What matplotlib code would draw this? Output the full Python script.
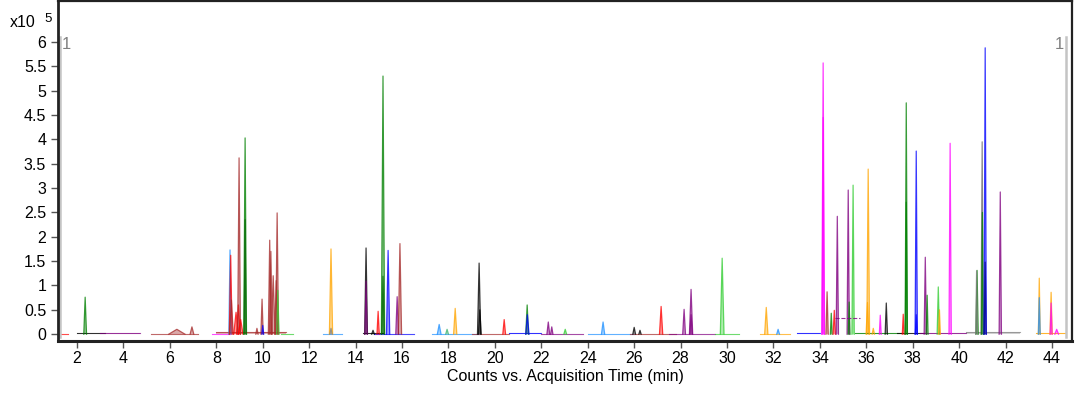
import matplotlib
matplotlib.use("Agg")
from matplotlib import pyplot as plt

plt.rcParams['font.family'] = ['Liberation Sans', 'DejaVu Sans']

# peak table: retention time (min), height (x10^5 counts), colour, half width (min)
peak_rt = [2.35, 6.3, 6.95, 8.59, 8.62, 8.65, 8.85, 8.95, 8.98, 9.05, 9.24, 9.24,
           9.75, 9.97, 10.0, 10.3, 10.35, 10.45, 10.62, 10.58, 10.65,
           12.94, 12.94, 14.45, 14.45, 14.75, 14.97, 15.18, 15.18, 15.4, 15.79, 15.91,
           17.6, 17.94, 18.29, 19.32, 19.35, 20.4, 21.39, 21.4, 22.3, 22.45, 23.03,
           24.66, 26.0, 26.25, 27.16, 28.15, 28.45, 28.45, 29.79,
           31.69, 32.2, 34.14, 34.14, 34.31, 34.49, 34.62, 34.75, 35.22, 35.26, 35.43,
           36.08, 36.05, 36.3, 36.6, 36.86, 37.59, 37.72, 37.72, 38.15, 38.15, 38.54,
           38.62, 39.1, 39.15, 39.61, 40.77, 40.75, 40.99, 41.0, 41.12, 41.12, 41.77,
           43.45, 43.45, 43.96, 43.96, 44.2]
peak_h = [0.76, 0.10, 0.15, 1.73, 1.62, 0.70, 0.45, 0.60, 3.62, 0.30, 4.03, 2.35,
          0.12, 0.72, 0.18, 1.93, 1.70, 1.20, 2.49, 1.10, 0.90,
          1.75, 0.12, 1.77, 1.09, 0.08, 0.47, 5.30, 1.19, 1.72, 0.77, 1.86,
          0.20, 0.10, 0.53, 1.46, 0.50, 0.30, 0.60, 0.40, 0.25, 0.15, 0.10,
          0.25, 0.14, 0.08, 0.57, 0.51, 0.92, 0.40, 1.56,
          0.55, 0.10, 5.57, 4.45, 0.87, 0.43, 0.49, 2.42, 2.96, 0.66, 3.06,
          3.39, 0.65, 0.12, 0.39, 0.64, 0.41, 4.75, 2.71, 3.76, 0.40, 1.58,
          0.80, 0.97, 0.50, 3.92, 1.31, 1.30, 3.95, 2.50, 5.88, 1.48, 2.92,
          1.15, 0.75, 0.86, 0.64, 0.10]
peak_c = ['green', 'brown', 'brown', 'dodgerblue', 'red', 'brown', 'red', 'red', 'brown', 'red', 'green', 'darkgreen',
          'brown', 'brown', 'blue', 'brown', 'brown', 'brown', 'brown', 'brown', 'limegreen',
          'orange', 'gray', 'black', 'purple', 'black', 'red', 'green', 'darkgreen', 'blue', 'purple', 'brown',
          'dodgerblue', 'mediumseagreen', 'orange', 'black', 'black', 'red', 'green', 'blue', 'purple', 'purple', 'limegreen',
          'dodgerblue', 'black', 'black', 'red', 'purple', 'purple', 'purple', 'limegreen',
          'orange', 'dodgerblue', 'magenta', 'magenta', 'brown', 'green', 'red', 'purple', 'purple', 'green', 'limegreen',
          'orange', 'orange', 'orange', 'magenta', 'black', 'red', 'green', 'green', 'blue', 'blue', 'purple',
          'green', 'limegreen', 'orange', 'magenta', 'green', 'gray', 'dimgray', 'green', 'blue', 'darkblue', 'purple',
          'orange', 'dodgerblue', 'orange', 'magenta', 'magenta']
peak_w = [0.06, 0.35, 0.08, 0.05, 0.06, 0.08, 0.10, 0.08, 0.06, 0.10, 0.06, 0.04,
          0.05, 0.05, 0.04, 0.06, 0.06, 0.08, 0.06, 0.06, 0.05,
          0.07, 0.05, 0.06, 0.05, 0.06, 0.05, 0.07, 0.05, 0.07, 0.06, 0.07,
          0.08, 0.06, 0.07, 0.07, 0.06, 0.06, 0.06, 0.07, 0.06, 0.05, 0.06,
          0.07, 0.06, 0.05, 0.07, 0.06, 0.07, 0.05, 0.08,
          0.07, 0.06, 0.06, 0.04, 0.05, 0.04, 0.05, 0.05, 0.05, 0.04, 0.05,
          0.06, 0.06, 0.05, 0.04, 0.05, 0.04, 0.05, 0.04, 0.05, 0.04, 0.05,
          0.04, 0.05, 0.04, 0.05, 0.05, 0.04, 0.05, 0.04, 0.05, 0.04, 0.05,
          0.04, 0.04, 0.05, 0.04, 0.08]

# low baseline traces: start, end, level, colour
base_start = [1.2, 2.0, 3.0, 5.2, 7.8, 8.0, 10.8, 12.6, 14.3, 14.8, 17.3, 19.0, 20.6, 22.0,
              24.0, 25.8, 27.5, 29.5, 31.4, 33.0, 35.5, 37.3, 38.3, 40.3, 43.3]
base_end = [1.6, 3.2, 4.7, 7.2, 8.6, 11.0, 11.3, 13.4, 15.2, 16.5, 19.3, 20.6, 22.0, 23.8,
            26.0, 27.8, 29.5, 30.5, 32.7, 34.0, 37.5, 38.5, 40.3, 42.6, 44.6]
base_lvl = [0.01, 0.03, 0.02, 0.01, 0.01, 0.04, 0.01, 0.01, 0.02, 0.01, 0.01, 0.01, 0.02, 0.01,
            0.01, 0.01, 0.01, 0.01, 0.01, 0.02, 0.02, 0.02, 0.02, 0.05, 0.03]
base_c = ['red', 'black', 'purple', 'brown', 'magenta', 'brown', 'limegreen', 'dodgerblue', 'black',
          'blue', 'dodgerblue', 'brown', 'blue', 'purple', 'dodgerblue', 'brown', 'purple',
          'limegreen', 'orange', 'blue', 'green', 'black', 'purple', 'gray', 'orange']

# purple plateau trace near 35 min
plateau_start, plateau_end, plateau_lvl = 34.66, 35.73, 0.33

fig = plt.figure(figsize=(10.8, 3.93), dpi=100)
ax = fig.add_axes([0.0537, 0.1323, 0.9389, 0.865])

for s, e, lv, c in zip(base_start, base_end, base_lvl, base_c):
    ax.fill_between([s, e], [0, 0], [lv, lv], color=c, alpha=0.35, lw=0)
    ax.plot([s, e], [lv, lv], color=c, lw=0.8, alpha=0.7)

for t, h, c, w in zip(peak_rt, peak_h, peak_c, peak_w):
    xs = [t - w, t, t + w]
    ys = [0, h, 0]
    ax.fill(xs, ys, color=c, alpha=0.4, lw=0)
    ax.plot(xs, ys, color=c, lw=0.9, alpha=0.75)

ax.plot([plateau_start, plateau_end], [plateau_lvl, plateau_lvl], color='purple', lw=0.8, ls='--', alpha=0.8)

# range markers with segment labels
ax.plot([1.25, 1.25], [-0.05, 6.1], color='#c4c4c4', lw=1.8)
ax.plot([44.62, 44.62], [-0.05, 6.1], color='#c4c4c4', lw=1.8)
ax.text(1.35, 6.1, '1', color='gray', fontsize=12, va='top', ha='left')
ax.text(44.5, 6.1, '1', color='gray', fontsize=12, va='top', ha='right')

ax.set_xlim(1.18, 44.86)
ax.set_ylim(-0.14, 6.84)
ax.set_xticks(range(2, 45, 2))
ax.set_yticks([i * 0.5 for i in range(13)])
ax.set_yticklabels(['0', '0.5', '1', '1.5', '2', '2.5', '3', '3.5', '4', '4.5', '5', '5.5', '6'])
ax.tick_params(axis='both', labelsize=11.5, length=5, width=1, color='#555555')
ax.tick_params(axis='x', pad=2)
for sp in ax.spines.values():
    sp.set_linewidth(1.6)
    sp.set_color('#222222')
ax.spines['left'].set_linewidth(2)
ax.spines['bottom'].set_linewidth(2.2)

ax.set_xlabel('Counts vs. Acquisition Time (min)', fontsize=11.5, labelpad=2)
fig.text(0.009, 0.943, 'x10', fontsize=11.5, va='center', ha='left')
fig.text(0.041, 0.952, '5', fontsize=9.5, va='center', ha='left')

fig.savefig('out.png', dpi=100)
